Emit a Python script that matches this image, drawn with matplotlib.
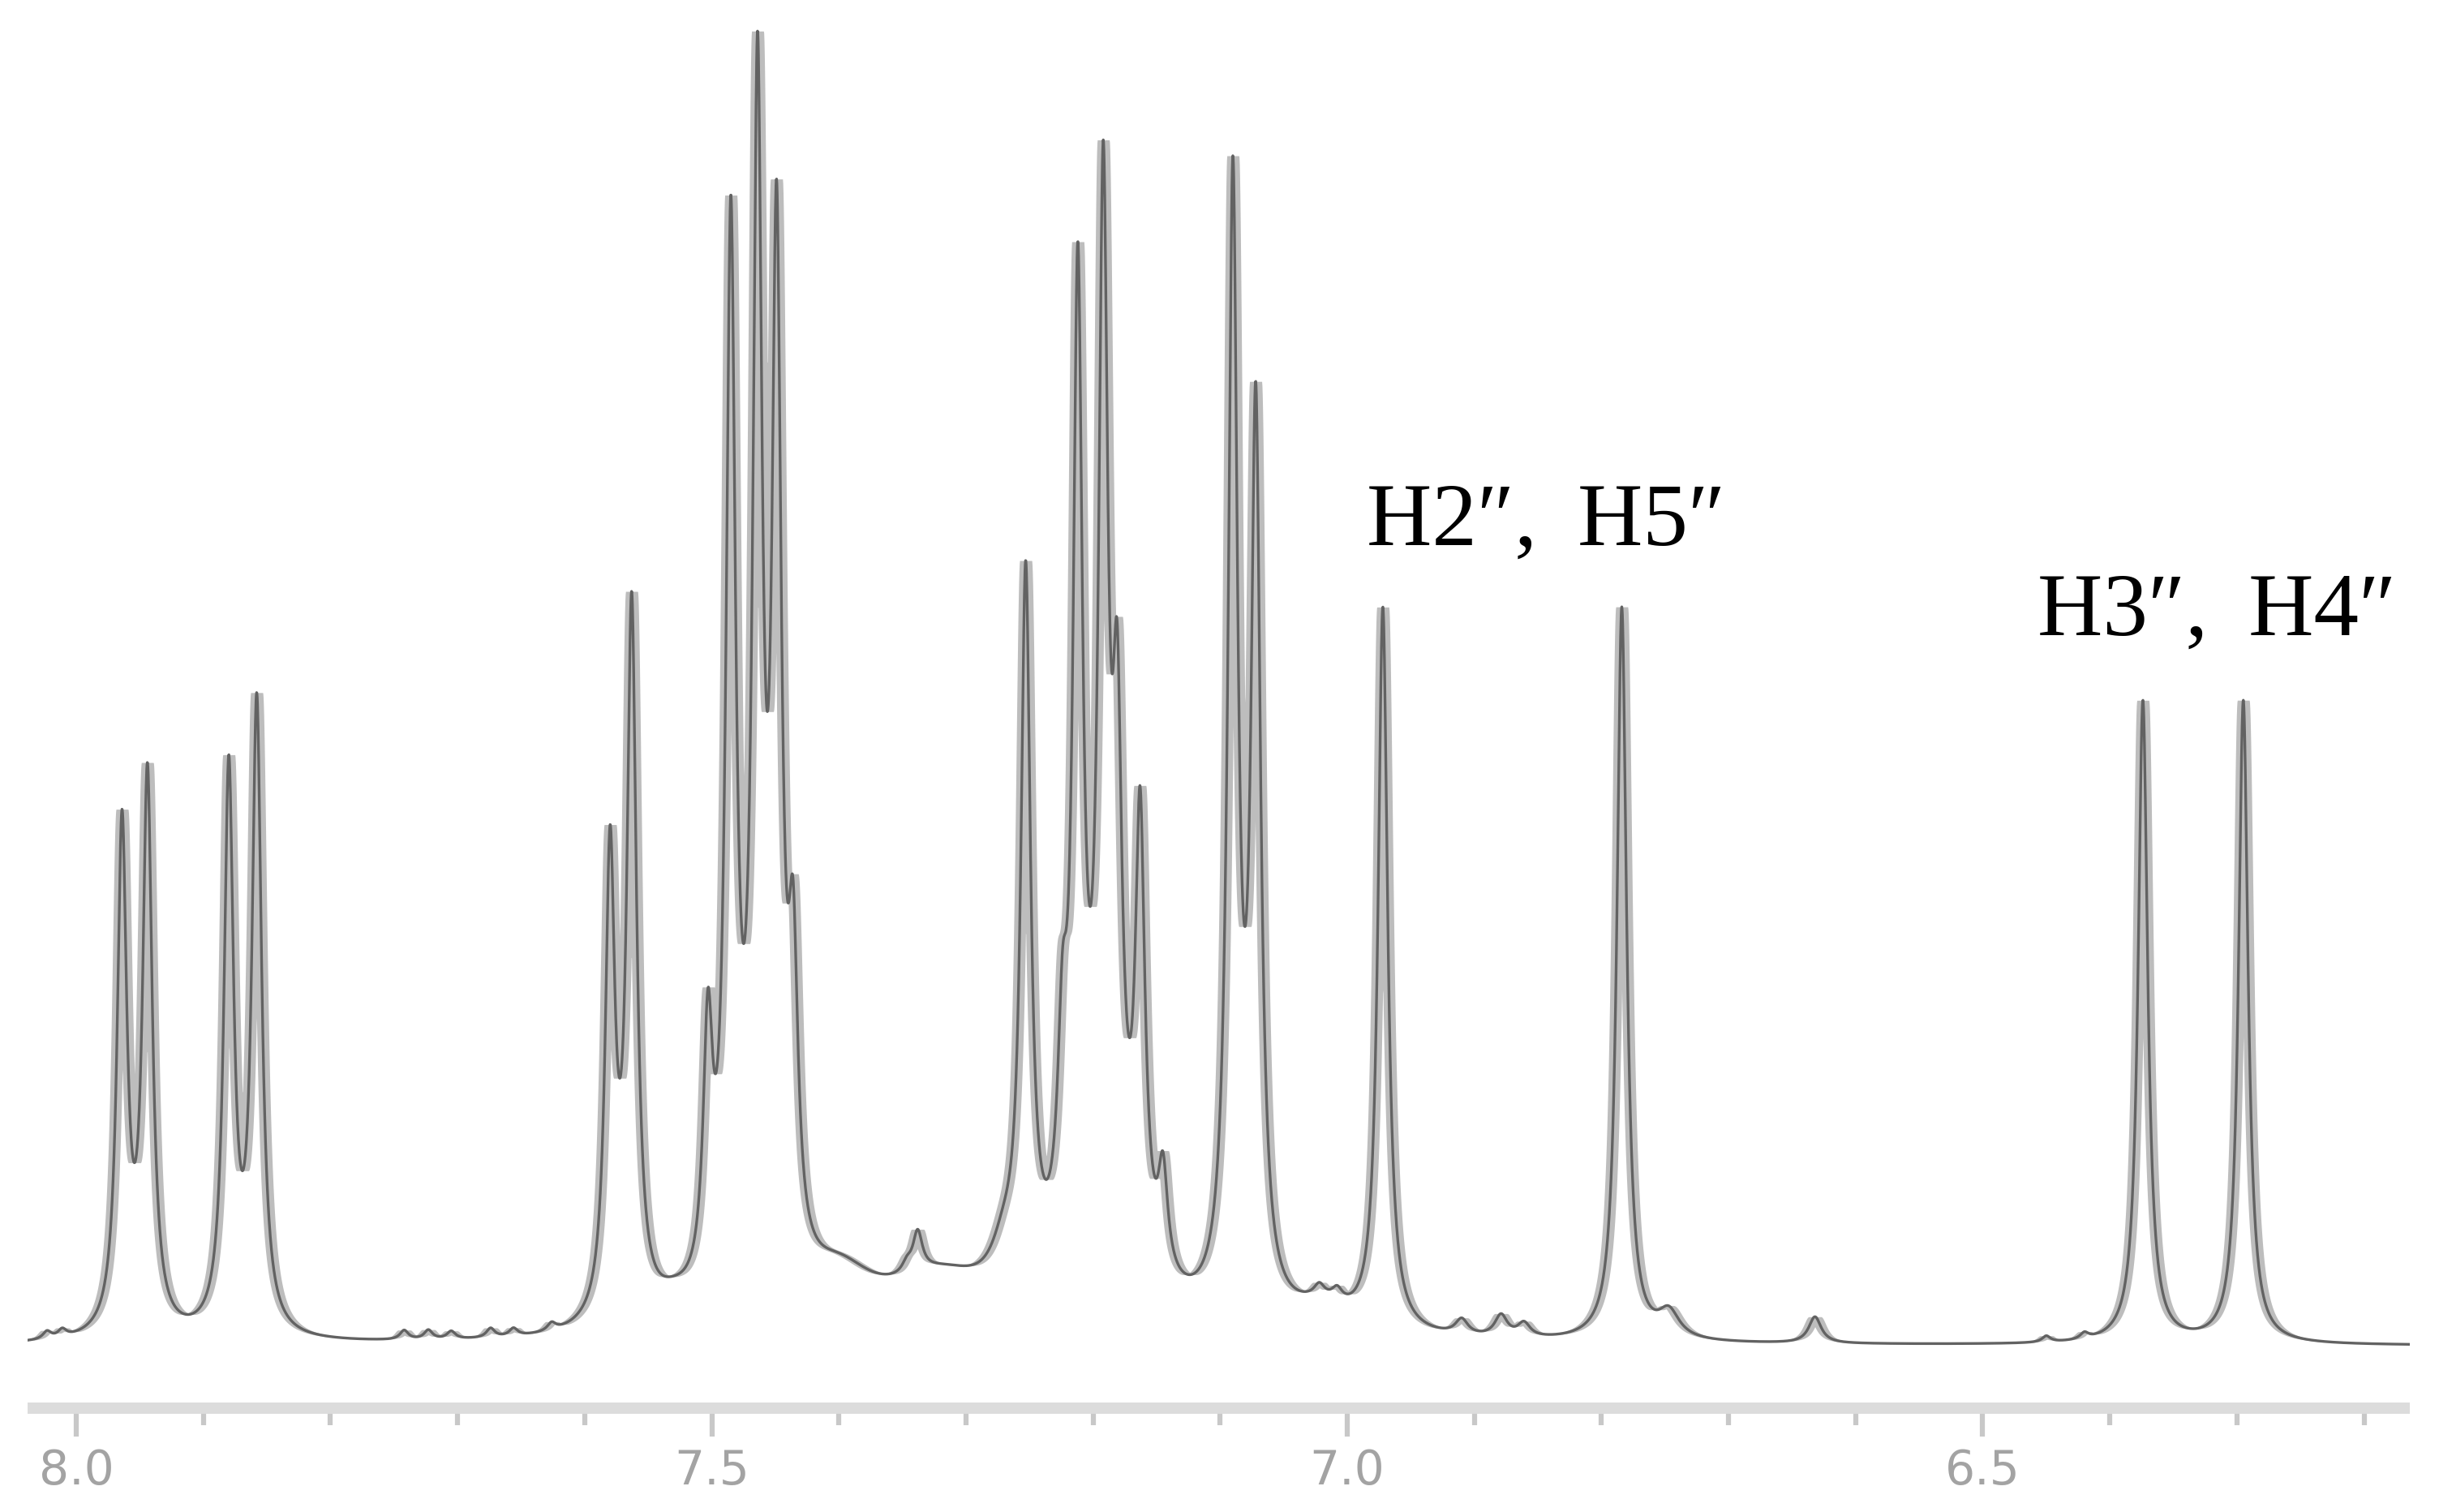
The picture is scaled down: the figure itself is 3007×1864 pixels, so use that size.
import numpy as np
import matplotlib.pyplot as plt
from matplotlib.ticker import MultipleLocator, FormatStrFormatter
from numpy.lib.stride_tricks import sliding_window_view

# resolved lines of the 1H spectrum: shift (ppm) and height above baseline (a.u.)
peak_ppm = [7.964, 7.944, 7.880, 7.858,
            7.580, 7.563, 7.503, 7.485, 7.464, 7.449, 7.436,
            7.3465, 7.338,
            7.253, 7.224, 7.212, 7.192, 7.181, 7.163, 7.145,
            7.090, 7.072,
            6.972, 6.784, 6.374, 6.295]
peak_height = [345, 375, 380, 420,
               335, 485, 230, 740, 845, 750, 300,
               58, 75,
               505, 255, 710, 775, 465, 360, 125,
               765, 620,
               475, 475, 415, 415]
line_hw = 0.0045  # lorentzian half width, ppm

# small bumps and broad background under the multiplets
hump_ppm = [8.023, 8.011, 7.742, 7.723, 7.705, 7.674, 7.656, 7.626,
            7.53, 7.40, 7.32, 7.27, 7.19, 7.02, 7.022, 7.008,
            6.910, 6.879, 6.861, 6.747, 6.632, 6.45, 6.42]
hump_height = [5, 5, 6, 6, 5, 6, 5, 5,
               12, 32, 33, 25, 40, 15, 8, 8,
               10, 14, 9, 17, 17, 4, 4]
hump_hw = [0.004, 0.004, 0.004, 0.004, 0.004, 0.004, 0.004, 0.004,
           0.02, 0.035, 0.05, 0.012, 0.04, 0.03, 0.005, 0.005,
           0.006, 0.006, 0.006, 0.01, 0.006, 0.004, 0.004]

tick_major = [8.0, 7.5, 7.0, 6.5]


def lor(x, x0, hw):
    return 1.0 / (1.0 + ((x - x0) / hw) ** 2)


def background(x):
    out = np.zeros_like(x, dtype=float)
    for p, h, w in zip(hump_ppm, hump_height, hump_hw):
        out += h * lor(x, p, w)
    return out


pp = np.array(peak_ppm)
# pick amplitudes so the summed curve reaches the read heights at each line
M = lor(pp[:, None], pp[None, :], line_hw)
amps = np.linalg.solve(M, np.array(peak_height) - background(pp))

x = np.linspace(8.0383, 6.164, 8000)
y = background(x)
for p, a in zip(peak_ppm, amps):
    y += a * lor(x, p, line_hw)

# grey body of the narrow lines (horizontal smear like the low-res original)
half = int(round(0.0048 / abs(x[1] - x[0])))
ypad = np.pad(y, half, mode='edge')
win = sliding_window_view(ypad, 2 * half + 1)
lo = win.min(axis=1)
hi = win.max(axis=1)

fig = plt.figure(figsize=(30.07, 18.64), dpi=100)
ax = fig.add_axes([34 / 3007, 128 / 1864, 2937 / 3007, 1736 / 1864])

ax.fill_between(x, lo, hi, color='#bdbdbd', lw=0)
ax.plot(x, y, color='#626262', lw=2.4, solid_joinstyle='round')

ax.set_xlim(8.0383, 6.164)
ax.set_ylim(-40, 865)

for s in ['top', 'left', 'right']:
    ax.spines[s].set_visible(False)
ax.spines['bottom'].set_color('#dcdcdc')
ax.spines['bottom'].set_linewidth(10)
ax.spines['bottom'].set_capstyle('butt')
ax.set_yticks([])

ax.xaxis.set_minor_locator(MultipleLocator(0.1))
ax.xaxis.set_major_formatter(FormatStrFormatter('%.1f'))
ax.set_xticks(tick_major)
ax.tick_params(axis='x', which='major', length=25, width=4.5, color='#c8c8c8',
               pad=10, labelsize=42, labelcolor='#a3a3a3')
ax.tick_params(axis='x', which='minor', length=15, width=4.5, color='#c8c8c8')
for lab in ax.get_xticklabels():
    lab.set_family(['Liberation Sans Narrow', 'DejaVu Sans'])

serif = ['Liberation Serif', 'DejaVu Serif']
ax.text(6.985, 515, 'H2\u2033, \u2009H5\u2033', fontsize=80, family=serif,
        color='black', va='baseline', ha='left')
ax.text(6.457, 457, 'H3\u2033, \u2009H4\u2033', fontsize=80, family=serif,
        color='black', va='baseline', ha='left')

fig.savefig('out.png', dpi=100, facecolor='white')
